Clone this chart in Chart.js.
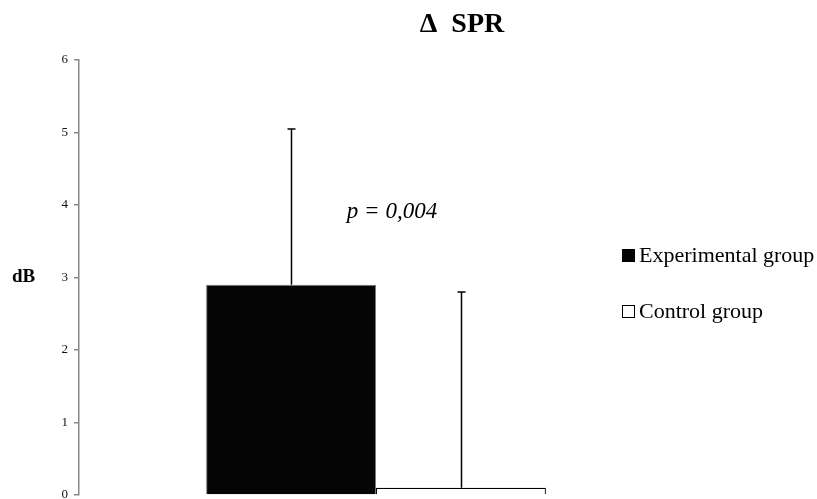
<!DOCTYPE html>
<html>
<head>
<meta charset="utf-8">
<script src="https://cdn.jsdelivr.net/npm/chart.js@4"></script>
<style>
html,body{margin:0;padding:0;background:#fff;}
#wrap{width:817px;height:499px;position:relative;}
</style>
</head>
<body>
<div id="wrap"><canvas id="c" width="817" height="499"></canvas></div>
<script>
// ---- data ----
const categories = ['Δ SPR'];
const seriesNames = ['Experimental group', 'Control group'];
const experimentalValues = [2.90];
const controlValues = [0.10];
const experimentalErrors = [2.15];
const controlErrors = [2.70];
const yTicks = [0, 1, 2, 3, 4, 5, 6];
const chartTitle = 'Δ  SPR';
const yAxisLabel = 'dB';
const pValueText = 'p = 0,004';

const SERIF = "'Liberation Serif', 'Times New Roman', serif";

const errorBarPlugin = {
  id: 'errorBars',
  afterDatasetsDraw(chart) {
    const ctx = chart.ctx;
    const y = chart.scales.y;
    chart.data.datasets.forEach((ds, i) => {
      const meta = chart.getDatasetMeta(i);
      meta.data.forEach((el, j) => {
        const v = ds.data[j];
        const e = ds.errors[j];
        const top = y.getPixelForValue(v + e);
        const x = Math.round(el.x) + 0.5;
        ctx.save();
        ctx.strokeStyle = '#000';
        ctx.lineWidth = 1.5;
        ctx.beginPath();
        ctx.moveTo(x, el.y);
        ctx.lineTo(x, top);
        ctx.moveTo(x - 4, top);
        ctx.lineTo(x + 4, top);
        ctx.stroke();
        ctx.restore();
      });
    });
  }
};

const annotationsPlugin = {
  id: 'annotations',
  afterDraw(chart) {
    const ctx = chart.ctx;
    const y = chart.scales.y;
    ctx.save();
    ctx.fillStyle = '#000';
    // title
    ctx.font = 'bold 28px ' + SERIF;
    ctx.textAlign = 'center';
    ctx.textBaseline = 'middle';
    ctx.fillText(chartTitle, 462, 25);
    // y label
    ctx.font = 'bold 19px ' + SERIF;
    ctx.textAlign = 'left';
    ctx.fillText(yAxisLabel, 12, y.getPixelForValue(3));
    // p value
    ctx.font = 'italic 23px ' + SERIF;
    ctx.textAlign = 'center';
    ctx.fillText(pValueText, 392, 212);
    // legend
    const items = chart.data.datasets;
    const legendY = [256, 312];
    items.forEach((ds, i) => {
      const cy = legendY[i];
      ctx.fillStyle = ds.backgroundColor;
      ctx.fillRect(622.5, cy - 6.5, 12, 12);
      ctx.strokeStyle = '#000';
      ctx.lineWidth = 1;
      ctx.strokeRect(622.5, cy - 6.5, 12, 12);
      ctx.fillStyle = '#000';
      ctx.font = '22px ' + SERIF;
      ctx.textAlign = 'left';
      ctx.fillText(ds.label, 639, cy);
    });
    ctx.restore();
  }
};

new Chart(document.getElementById('c'), {
  type: 'bar',
  data: {
    labels: categories,
    datasets: [
      {
        label: seriesNames[0],
        data: experimentalValues,
        errors: experimentalErrors,
        backgroundColor: '#050505',
        borderColor: '#777',
        borderWidth: 1,
        categoryPercentage: 0.572,
        barPercentage: 1
      },
      {
        label: seriesNames[1],
        data: controlValues,
        errors: controlErrors,
        backgroundColor: '#ffffff',
        borderColor: '#000',
        borderWidth: 1.2,
        categoryPercentage: 0.572,
        barPercentage: 1
      }
    ]
  },
  options: {
    responsive: false,
    animation: false,
    devicePixelRatio: 1,
    layout: { padding: { top: 60, bottom: 4, right: 144, left: 0 } },
    plugins: {
      legend: { display: false },
      title: { display: false },
      tooltip: { enabled: false }
    },
    scales: {
      x: {
        display: false,
        offset: true
      },
      y: {
        min: 0,
        max: 6,
        afterBuildTicks(scale) {
          scale.ticks = yTicks.map(v => ({ value: v }));
        },
        afterFit(scale) {
          scale.width = 79;
          scale.paddingTop = 0;
          scale.paddingBottom = 0;
        },
        ticks: {
          color: '#111',
          padding: 6,
          font: { family: SERIF, size: 13 }
        },
        grid: {
          drawOnChartArea: false,
          drawTicks: true,
          tickLength: 5,
          color: '#888',
          lineWidth: 1.5
        },
        border: { display: true, color: '#888', width: 1.5 }
      }
    }
  },
  plugins: [errorBarPlugin, annotationsPlugin]
});
</script>
</body>
</html>
